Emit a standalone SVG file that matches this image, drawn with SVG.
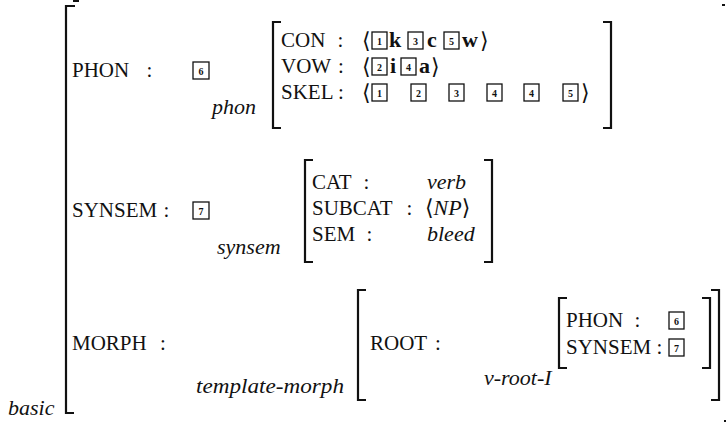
<svg xmlns="http://www.w3.org/2000/svg" width="727" height="428" viewBox="0 0 727 428">
<style>
text{font-family:"Liberation Serif","DejaVu Serif",serif;font-size:21px;fill:#111}
.it{font-style:italic;font-size:22px}
.b{font-weight:bold;font-size:22px}
.ang{font-family:"DejaVu Serif","Liberation Serif",serif;font-size:22px;font-style:normal}
.br{fill:none;stroke:#111;stroke-width:2.2}
.bx{fill:#fff;stroke:#111;stroke-width:1.3}
.n{font-family:"Liberation Serif",serif;font-size:10px;font-weight:bold;text-anchor:middle}
</style>
<rect width="727" height="428" fill="#fff"/>

<g id="avm-basic">
<path class="br" d="M75,6 H66 V413 H74"/>
<rect x="73" y="0" width="6" height="2" fill="#111"/>
<rect x="722" y="4" width="3" height="2" fill="#111"/>
<rect x="724" y="420" width="2" height="2" fill="#111"/>
<text class="it" x="8" y="415">basic</text>
<text x="72" y="77">PHON<tspan dx="12"> :</tspan></text>
<text x="72" y="217">SYNSEM<tspan dx="1"> :</tspan></text>
<text x="72" y="350">MORPH<tspan dx="8"> :</tspan></text>
<g id="tag6a"><rect class="bx" x="193" y="62" width="16" height="17"/><text class="n" x="201" y="74.5">6</text></g>
<g id="tag7a"><rect class="bx" x="193" y="202" width="16" height="17"/><text class="n" x="201" y="214.5">7</text></g>
</g>

<g id="avm-phon">
<text class="it" x="212" y="114">phon</text>
<path class="br" d="M281,22 H273 V128 H281"/>
<path class="br" d="M603,22 H611 V128 H603"/>
<text x="281" y="47">CON<tspan dx="7"> :</tspan></text>
<text x="281" y="73">VOW<tspan dx="2"> :</tspan></text>
<text x="281" y="99">SKEL<tspan dx="0"> :</tspan></text>
<g id="con">
<text class="ang" x="362" y="48">⟨</text>
<rect class="bx" x="372" y="32" width="15" height="17"/><text class="n" x="379.5" y="44.5">1</text>
<text class="b" x="389" y="47">k</text>
<rect class="bx" x="408" y="32" width="15" height="17"/><text class="n" x="415.5" y="44.5">3</text>
<text class="b" x="427" y="47">c</text>
<rect class="bx" x="444" y="32" width="15" height="17"/><text class="n" x="451.5" y="44.5">5</text>
<text class="b" x="462" y="47">w</text>
<text class="ang" x="480" y="48">⟩</text>
</g>
<g id="vow">
<text class="ang" x="362" y="74">⟨</text>
<rect class="bx" x="372" y="58" width="15" height="17"/><text class="n" x="379.5" y="70.5">2</text>
<text class="b" x="390" y="73">i</text>
<rect class="bx" x="401" y="58" width="15" height="17"/><text class="n" x="408.5" y="70.5">4</text>
<text class="b" x="419" y="73">a</text>
<text class="ang" x="431" y="74">⟩</text>
</g>
<g id="skel">
<text class="ang" x="362" y="100">⟨</text>
<rect class="bx" x="372" y="84" width="15" height="17"/><text class="n" x="379.5" y="96.5">1</text>
<rect class="bx" x="411" y="84" width="15" height="17"/><text class="n" x="418.5" y="96.5">2</text>
<rect class="bx" x="449" y="84" width="15" height="17"/><text class="n" x="456.5" y="96.5">3</text>
<rect class="bx" x="487" y="84" width="15" height="17"/><text class="n" x="494.5" y="96.5">4</text>
<rect class="bx" x="524" y="84" width="15" height="17"/><text class="n" x="531.5" y="96.5">4</text>
<rect class="bx" x="563" y="84" width="15" height="17"/><text class="n" x="570.5" y="96.5">5</text>
<text class="ang" x="581" y="100">⟩</text>
</g>
</g>

<g id="avm-synsem">
<text class="it" x="217" y="254">synsem</text>
<path class="br" d="M313,160 H305 V262 H313"/>
<path class="br" d="M484,160 H492 V262 H484"/>
<text x="312" y="189">CAT<tspan dx="7"> :</tspan></text>
<text x="312" y="215">SUBCAT<tspan dx="9"> :</tspan></text>
<text x="312" y="241">SEM<tspan dx="6"> :</tspan></text>
<text class="it" x="427" y="189">verb</text>
<text x="425" y="215"><tspan class="ang">⟨</tspan><tspan class="it">NP</tspan><tspan class="ang">⟩</tspan></text>
<text class="it" x="427" y="241">bleed</text>
</g>

<g id="avm-template-morph">
<text class="it" x="196" y="393" textLength="148" lengthAdjust="spacingAndGlyphs">template-morph</text>
<path class="br" d="M366,290 H358 V400 H366"/>
<path class="br" d="M711,290 H719 V400 H711"/>
<text x="370" y="350">ROOT<tspan dx="3"> :</tspan></text>
</g>

<g id="avm-v-root">
<text class="it" x="484" y="385">v-root-I</text>
<path class="br" d="M567,298 H559 V368 H567"/>
<path class="br" d="M702,298 H710 V368 H702"/>
<text x="566" y="327">PHON<tspan dx="6"> :</tspan></text>
<text x="566" y="354">SYNSEM<tspan dx="0"> :</tspan></text>
<g id="tag6b"><rect class="bx" x="669" y="312" width="15" height="17"/><text class="n" x="676.5" y="324.5">6</text></g>
<g id="tag7b"><rect class="bx" x="669" y="339" width="15" height="17"/><text class="n" x="676.5" y="351.5">7</text></g>
</g>
</svg>
